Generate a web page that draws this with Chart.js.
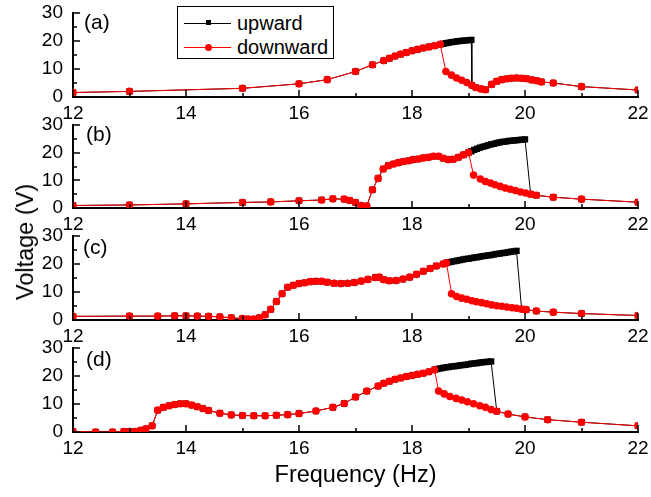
<!DOCTYPE html>
<html>
<head>
<meta charset="utf-8">
<script src="https://cdn.jsdelivr.net/npm/chart.js@4.4.1/dist/chart.umd.min.js"></script>
<style>
  body { margin: 0; background: #fff; }
  #wrap { position: relative; width: 651px; height: 497px; overflow: hidden;
          font-family: "Liberation Sans", Arial, sans-serif; color: #000; }
  #wrap canvas { position: absolute; left: 0; top: 0; }
  .panel-label { position: absolute; font-size: 21px; line-height: 21px; }
  #ytitle { position: absolute; left: 25px; top: 242px; font-size: 23.5px; line-height: 28px;
            white-space: nowrap; transform: translate(-50%, -50%) rotate(-90deg); }
  #legend { position: absolute; left: 177px; top: 6px; width: 155px; height: 51px;
            border: 1px solid #000; background: #fff; }
  .leg-row { position: absolute; left: 0; height: 24px; width: 155px; }
  .leg-line { position: absolute; left: 6px; width: 47px; top: 11.5px; height: 1px; }
  .leg-mark { position: absolute; }
  .leg-text { position: absolute; left: 59px; top: 0; font-size: 20px; line-height: 24px; }
</style>
</head>
<body>
<div id="wrap">
  <canvas id="panelA" width="651" height="497"></canvas>
  <canvas id="panelB" width="651" height="497"></canvas>
  <canvas id="panelC" width="651" height="497"></canvas>
  <canvas id="panelD" width="651" height="497"></canvas>
  <div class="panel-label" style="left:84px;top:11px">(a)</div>
  <div class="panel-label" style="left:86px;top:123px">(b)</div>
  <div class="panel-label" style="left:83px;top:236px">(c)</div>
  <div class="panel-label" style="left:86px;top:348px">(d)</div>
  <div id="ytitle">Voltage (V)</div>
  <div id="legend">
    <div class="leg-row" style="top:4px">
      <div class="leg-line" style="background:#000"></div>
      <div class="leg-mark" style="left:28px;top:9px;width:5px;height:5px;background:#000"></div>
      <div class="leg-text">upward</div>
    </div>
    <div class="leg-row" style="top:28px">
      <div class="leg-line" style="background:#f00"></div>
      <div class="leg-mark" style="left:27px;top:8.5px;width:7px;height:7px;border-radius:50%;background:#f00"></div>
      <div class="leg-text">downward</div>
    </div>
  </div>
</div>
<script>
// tick values
const xMajorTicks = [12, 14, 16, 18, 20, 22];
const xMinorTicks = [13, 15, 17, 19, 21];
const yMajorTicks = [0, 10, 20, 30];
const yMinorTicks = [5, 15, 25];

// (a) shared part, upper (upward only) branch, lower (downward) branch
const aLowF = [12, 13, 15, 16, 16.5, 17, 17.3, 17.5, 17.6, 17.7, 17.8, 17.9, 18, 18.1, 18.2, 18.3, 18.4, 18.5];
const aLowV = [1.6, 2.0, 3.1, 4.7, 6.2, 9.1, 11.5, 13.0, 13.8, 14.6, 15.3, 15.9, 16.5, 17.0, 17.5, 17.9, 18.3, 18.8];
const aHiF = [18.55, 18.6, 18.65, 18.7, 18.75, 18.8, 18.85, 18.9, 18.95, 19.0, 19.05];
const aHiV = [19.0, 19.2, 19.4, 19.6, 19.7, 19.9, 20.0, 20.1, 20.2, 20.3, 20.4];
const aTailF = [18.6, 18.7, 18.79, 18.88, 18.97, 19.06, 19.13, 19.22, 19.3, 19.41, 19.5, 19.59, 19.68, 19.76, 19.85, 19.94, 20.03, 20.12, 20.21, 20.29, 20.5, 21, 22];
const aTailV = [9.1, 7.8, 6.8, 6.0, 5.2, 4.2, 3.4, 2.9, 2.6, 4.5, 5.6, 6.2, 6.5, 6.7, 6.8, 6.7, 6.5, 6.1, 5.8, 5.4, 5.0, 3.7, 2.5];
const aDropAt = 19.06;

// (b)
const bLowF = [12, 13, 14, 15, 15.5, 16, 16.4, 16.6, 16.8, 16.9, 17.0, 17.1, 17.2, 17.3, 17.4, 17.49, 17.58, 17.67, 17.76, 17.85, 17.94, 18.02, 18.11, 18.2, 18.29, 18.38, 18.47, 18.55, 18.64, 18.73, 18.82, 18.91, 19.0];
const bLowV = [0.9, 1.1, 1.5, 2.0, 2.2, 2.6, 2.9, 3.3, 3.2, 2.7, 2.0, 0.9, 0.7, 6.6, 10.7, 14.1, 15.3, 15.9, 16.4, 16.8, 17.1, 17.5, 17.7, 18.1, 18.3, 18.7, 18.7, 18.0, 17.5, 17.6, 18.3, 19.2, 20.0];
const bHiF = [19.05, 19.1, 19.15, 19.2, 19.25, 19.3, 19.35, 19.4, 19.45, 19.5, 19.55, 19.6, 19.65, 19.7, 19.75, 19.8, 19.85, 19.9, 19.95, 20.0];
const bHiV = [20.5, 21.0, 21.4, 21.8, 22.1, 22.4, 22.7, 23.0, 23.2, 23.5, 23.7, 23.9, 24.0, 24.2, 24.3, 24.4, 24.5, 24.6, 24.7, 24.8];
const bTailF = [19.09, 19.21, 19.3, 19.39, 19.47, 19.56, 19.65, 19.74, 19.83, 19.92, 20.01, 20.1, 20.2, 20.5, 21, 22];
const bTailV = [11.9, 10.5, 9.6, 9.0, 8.4, 7.8, 7.2, 6.8, 6.3, 5.8, 5.4, 5.0, 4.6, 3.9, 3.2, 2.1];
const bDropAt = 20.1;

// (c)
const cLowF = [12, 13, 13.5, 13.8, 14.0, 14.2, 14.4, 14.6, 14.8, 15.0, 15.1, 15.2, 15.3, 15.4, 15.5, 15.6, 15.7, 15.8, 15.9, 16.0, 16.1, 16.2, 16.3, 16.4, 16.5, 16.62, 16.74, 16.86, 16.98, 17.1, 17.22, 17.35, 17.42, 17.5, 17.6, 17.72, 17.84, 17.96, 18.08, 18.2, 18.32, 18.43, 18.55, 18.61];
const cLowV = [1.3, 1.4, 1.4, 1.5, 1.5, 1.4, 1.3, 1.1, 0.8, 0.5, 0.3, 0.3, 0.8, 1.9, 3.8, 6.6, 9.4, 11.7, 12.4, 13.0, 13.3, 13.7, 13.8, 13.8, 13.5, 13.1, 13.0, 13.1, 13.4, 13.9, 14.5, 15.2, 15.3, 14.4, 14.0, 14.1, 14.6, 15.3, 16.3, 17.4, 18.4, 19.3, 20.0, 20.4];
const cHiF = [18.65, 18.7, 18.75, 18.8, 18.85, 18.9, 18.95, 19.0, 19.05, 19.1, 19.15, 19.2, 19.25, 19.3, 19.35, 19.4, 19.45, 19.5, 19.55, 19.6, 19.65, 19.7, 19.75, 19.8, 19.85];
const cHiV = [20.6, 20.8, 21.0, 21.2, 21.4, 21.6, 21.8, 21.9, 22.1, 22.3, 22.4, 22.6, 22.8, 22.9, 23.1, 23.2, 23.4, 23.6, 23.7, 23.9, 24.0, 24.2, 24.4, 24.5, 24.7];
const cTailF = [18.7, 18.79, 18.88, 18.97, 19.06, 19.14, 19.23, 19.32, 19.41, 19.5, 19.59, 19.68, 19.77, 19.85, 19.94, 20.02, 20.2, 20.5, 21, 22];
const cTailV = [9.4, 8.4, 7.8, 7.4, 6.9, 6.5, 6.2, 5.8, 5.4, 5.1, 4.9, 4.6, 4.4, 4.2, 3.9, 3.7, 3.2, 2.8, 2.3, 1.6];
const cDropAt = 19.94;

// (d)
const dLowF = [12, 12.4, 12.7, 12.9, 13.0, 13.1, 13.2, 13.29, 13.4, 13.5, 13.6, 13.7, 13.8, 13.9, 14.0, 14.1, 14.2, 14.3, 14.4, 14.6, 14.8, 15.0, 15.2, 15.4, 15.6, 15.8, 16.0, 16.3, 16.6, 16.8, 17.0, 17.2, 17.4, 17.5, 17.6, 17.7, 17.8, 17.9, 18.0, 18.1, 18.2, 18.3, 18.4];
const dLowV = [0.2, 0, 0, 0.2, 0.2, 0.2, 0.6, 1.1, 2.2, 7.8, 8.8, 9.4, 9.8, 10.1, 10.1, 9.6, 9.0, 8.4, 7.7, 6.7, 6.1, 5.9, 5.8, 5.8, 6.0, 6.2, 6.6, 7.5, 8.8, 10.2, 12.5, 14.6, 16.4, 17.4, 18.1, 18.8, 19.3, 19.8, 20.2, 20.6, 21.0, 21.5, 22.2];
const dHiF = [18.45, 18.5, 18.55, 18.6, 18.65, 18.7, 18.75, 18.8, 18.85, 18.9, 18.95, 19.0, 19.05, 19.1, 19.15, 19.2, 19.25, 19.3, 19.35, 19.4];
const dHiV = [22.5, 22.7, 22.9, 23.1, 23.2, 23.4, 23.5, 23.6, 23.8, 23.9, 24.0, 24.2, 24.4, 24.5, 24.6, 24.8, 24.9, 25.0, 25.1, 25.2];
const dTailF = [18.47, 18.57, 18.67, 18.78, 18.88, 18.98, 19.09, 19.2, 19.3, 19.4, 19.5, 19.7, 20.0, 20.4, 21, 22];
const dTailV = [14.6, 13.6, 12.7, 12.0, 11.4, 10.8, 10.1, 9.4, 8.8, 8.0, 7.4, 6.4, 5.4, 4.4, 3.5, 2.2];
const dDropAt = 19.5;

// pixel geometry of the four stacked plot areas
const panelTops = [13, 125, 236, 348];
const panelBottoms = [97, 208, 320, 432];

const FONT = "'Liberation Sans', Arial, sans-serif";

function toPoints(fs, vs) {
  return fs.map((f, i) => ({ x: f, y: vs[i] }));
}

// inward tick marks, placed with the chart's own scales
const tickMarks = {
  id: 'tickMarks',
  afterDatasetsDraw(chart) {
    const { ctx, chartArea, scales: { x, y } } = chart;
    ctx.save();
    ctx.strokeStyle = '#000';
    ctx.lineWidth = 1.5;
    ctx.beginPath();
    const xt = (v, len) => {
      const px = Math.round(x.getPixelForValue(v));
      ctx.moveTo(px, chartArea.bottom);
      ctx.lineTo(px, chartArea.bottom - len);
    };
    const yt = (v, len) => {
      const py = Math.round(y.getPixelForValue(v));
      ctx.moveTo(chartArea.left, py);
      ctx.lineTo(chartArea.left + len, py);
    };
    xMajorTicks.forEach(v => xt(v, 7));
    xMinorTicks.forEach(v => xt(v, 4));
    yMajorTicks.forEach(v => yt(v, 7));
    yMinorTicks.forEach(v => yt(v, 4));
    ctx.stroke();
    ctx.restore();
  }
};

function makePanel(id, idx, lowF, lowV, hiF, hiV, tailF, tailV, dropAt, isLast) {
  const low = toPoints(lowF, lowV);
  const tail = toPoints(tailF, tailV);
  const upward = low.concat(toPoints(hiF, hiV), tail.filter(p => p.x >= dropAt));
  const downward = low.concat(tail);
  const xH = isLast ? 58 : 30;

  return new Chart(document.getElementById(id), {
    type: 'scatter',
    plugins: [tickMarks],
    data: {
      datasets: [
        {
          label: 'upward',
          data: upward,
          showLine: true,
          borderColor: '#000000',
          backgroundColor: '#000000',
          borderWidth: 1,
          pointStyle: 'rect',
          pointRadius: 4.5,
          pointBorderWidth: 0,
          order: 2,
        },
        {
          label: 'downward',
          data: downward,
          showLine: true,
          borderColor: '#ff0000',
          backgroundColor: '#ff0000',
          borderWidth: 1,
          pointStyle: 'circle',
          pointRadius: 3.8,
          pointBorderWidth: 0,
          order: 1,
        },
      ],
    },
    options: {
      responsive: false,
      animation: false,
      events: [],
      layout: {
        padding: { left: 0, right: 13, top: panelTops[idx], bottom: 497 - panelBottoms[idx] - xH },
      },
      plugins: {
        legend: { display: false },
        tooltip: { enabled: false },
      },
      scales: {
        x: {
          type: 'linear',
          min: 12,
          max: 22,
          afterFit: (s) => { s.height = xH; s.paddingLeft = 0; s.paddingRight = 0; },
          afterBuildTicks: (s) => { s.ticks = xMajorTicks.map(v => ({ value: v })); },
          grid: { display: false, drawTicks: false },
          border: { display: true, color: '#000', width: 2 },
          ticks: {
            padding: 5,
            color: '#000',
            maxRotation: 0,
            autoSkip: false,
            font: { family: FONT, size: 19 },
          },
          title: {
            display: isLast,
            text: 'Frequency (Hz)',
            color: '#000',
            padding: 0,
            font: { family: FONT, size: 23.5 },
          },
        },
        y: {
          min: 0,
          max: 30,
          afterFit: (s) => { s.width = 73; s.paddingTop = 0; s.paddingBottom = 0; },
          afterBuildTicks: (s) => { s.ticks = yMajorTicks.map(v => ({ value: v })); },
          grid: { display: false, drawTicks: false },
          border: { display: true, color: '#000', width: 2 },
          ticks: {
            padding: 10,
            color: '#000',
            autoSkip: false,
            font: { family: FONT, size: 19 },
          },
        },
      },
    },
  });
}

makePanel('panelA', 0, aLowF, aLowV, aHiF, aHiV, aTailF, aTailV, aDropAt, false);
makePanel('panelB', 1, bLowF, bLowV, bHiF, bHiV, bTailF, bTailV, bDropAt, false);
makePanel('panelC', 2, cLowF, cLowV, cHiF, cHiV, cTailF, cTailV, cDropAt, false);
makePanel('panelD', 3, dLowF, dLowV, dHiF, dHiV, dTailF, dTailV, dDropAt, true);
</script>
</body>
</html>
